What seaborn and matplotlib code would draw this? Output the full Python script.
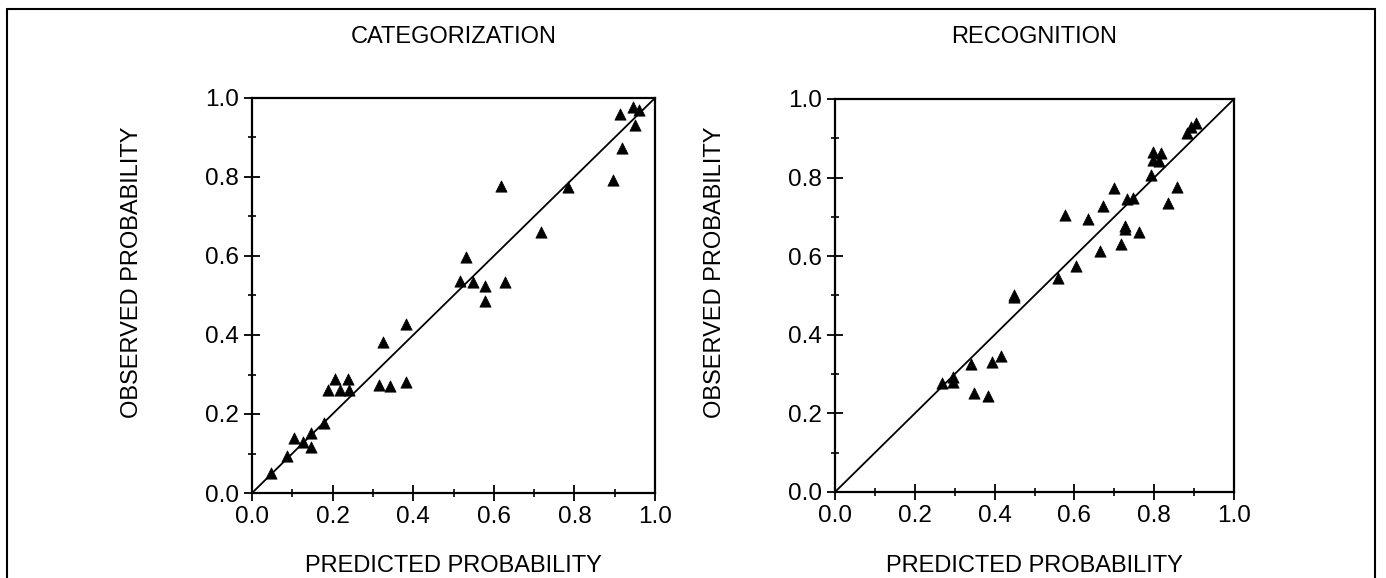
import matplotlib
matplotlib.use("Agg")
import matplotlib.pyplot as plt
import seaborn as sns
import pandas as pd
from matplotlib.ticker import MultipleLocator, FormatStrFormatter
from matplotlib.lines import Line2D

# ---- data ----
titles = ["CATEGORIZATION", "RECOGNITION"]
x_label = "PREDICTED PROBABILITY"
y_label = "OBSERVED PROBABILITY"

cat_pred = [0.046, 0.086, 0.103, 0.127, 0.146, 0.146, 0.179, 0.189, 0.206, 0.218,
            0.239, 0.241, 0.316, 0.326, 0.342, 0.382, 0.382, 0.516, 0.531, 0.549,
            0.577, 0.577, 0.618, 0.629, 0.716, 0.785, 0.895, 0.913, 0.917, 0.946,
            0.950, 0.961]
cat_obs = [0.051, 0.094, 0.140, 0.128, 0.151, 0.117, 0.176, 0.262, 0.289, 0.261,
           0.289, 0.261, 0.273, 0.383, 0.272, 0.428, 0.280, 0.537, 0.597, 0.535,
           0.525, 0.486, 0.777, 0.533, 0.662, 0.775, 0.792, 0.960, 0.873, 0.978,
           0.932, 0.970]

rec_pred = [0.267, 0.295, 0.295, 0.340, 0.348, 0.384, 0.393, 0.416, 0.449, 0.449,
            0.560, 0.576, 0.603, 0.633, 0.665, 0.672, 0.699, 0.716, 0.727, 0.728,
            0.733, 0.748, 0.762, 0.792, 0.798, 0.798, 0.813, 0.817, 0.835, 0.856,
            0.881, 0.891, 0.904]
rec_obs = [0.278, 0.293, 0.280, 0.325, 0.251, 0.245, 0.330, 0.347, 0.495, 0.502,
           0.545, 0.705, 0.575, 0.695, 0.614, 0.728, 0.773, 0.631, 0.670, 0.677,
           0.745, 0.748, 0.661, 0.807, 0.866, 0.845, 0.842, 0.862, 0.736, 0.777,
           0.914, 0.928, 0.938]

sns.set_style("white")
plt.rcParams['font.family'] = ['Liberation Sans', 'DejaVu Sans']
plt.rcParams['text.color'] = 'black'
plt.rcParams['axes.labelcolor'] = 'black'
plt.rcParams['xtick.color'] = 'black'
plt.rcParams['ytick.color'] = 'black'

W, H = 1386, 578
fig = plt.figure(figsize=(W / 100, H / 100), dpi=100)

# axes boxes in pixels: (left, top, right, bottom), y-label centre x
boxes = [(252, 98, 655, 493, 143), (835, 99, 1234, 492, 726)]
datasets = [(cat_pred, cat_obs), (rec_pred, rec_obs)]

for (l, t, r, b, ylx), (xs, ys), title in zip(boxes, datasets, titles):
    ax = fig.add_axes([l / W, 1 - b / H, (r - l) / W, (b - t) / H])
    df = pd.DataFrame({"pred": xs, "obs": ys})
    ax.axline((0, 0), slope=1, color="black", lw=1.3, zorder=1)
    sns.scatterplot(data=df, x="pred", y="obs", marker="^", color="black",
                    s=66, edgecolor="black", linewidth=0.5, ax=ax, zorder=3,
                    clip_on=False)
    ax.set_xlim(0, 1)
    ax.set_ylim(0, 1)
    for sp in ax.spines.values():
        sp.set_visible(True)
        sp.set_color("black")
        sp.set_linewidth(1.6)
    ax.xaxis.set_major_locator(MultipleLocator(0.2))
    ax.xaxis.set_minor_locator(MultipleLocator(0.1))
    ax.yaxis.set_major_locator(MultipleLocator(0.2))
    ax.yaxis.set_minor_locator(MultipleLocator(0.1))
    ax.xaxis.set_major_formatter(FormatStrFormatter("%.1f"))
    ax.yaxis.set_major_formatter(FormatStrFormatter("%.1f"))
    ax.tick_params(which="major", direction="inout", length=11, width=1.3,
                   labelsize=17.5, pad=4, colors="black", labelcolor="black",
                   bottom=True, left=True)
    ax.tick_params(which="minor", direction="inout", length=5.5, width=1.2,
                   colors="black", bottom=True, left=True)
    ax.set_xlabel(x_label, fontsize=17, color="black")
    ax.set_ylabel(y_label, fontsize=17, color="black")
    ax.xaxis.set_label_coords(0.5, (b - 555) / (b - t))
    ax.yaxis.set_label_coords((ylx - l) / (r - l), 0.56)
    fig.text((l + r) / 2 / W, 1 - 37 / H, title, ha="center", va="center",
             fontsize=17, color="black")

# outer frame
for xs_, ys_ in [((7, 7), (9, 578)), ((7, 1375), (9, 9)), ((1375, 1375), (9, 578))]:
    fig.add_artist(Line2D([x / W for x in xs_], [1 - y / H for y in ys_],
                          color="black", lw=1.5))

fig.savefig("out.png", dpi=100)
